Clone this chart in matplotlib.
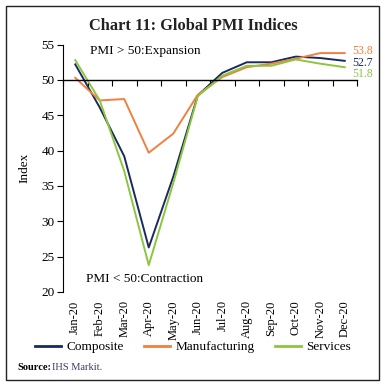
import matplotlib
matplotlib.use("Agg")
import matplotlib.pyplot as plt
from matplotlib.patches import Rectangle
from matplotlib.lines import Line2D
import numpy as np

months = ["Jan-20", "Feb-20", "Mar-20", "Apr-20", "May-20", "Jun-20",
          "Jul-20", "Aug-20", "Sep-20", "Oct-20", "Nov-20", "Dec-20"]
composite = [52.2, 46.1, 39.2, 26.3, 36.3, 47.8, 51.0, 52.5, 52.5, 53.3, 53.1, 52.7]
manufacturing = [50.3, 47.1, 47.3, 39.7, 42.4, 47.9, 50.4, 51.8, 52.3, 53.0, 53.8, 53.8]
services = [52.8, 47.1, 37.1, 23.8, 35.4, 47.7, 50.6, 52.0, 52.0, 52.9, 52.3, 51.8]
yticks = [20, 25, 30, 35, 40, 45, 50, 55]

c_comp = "#1b2a5e"
c_manu = "#f08040"
c_serv = "#8cc63f"

plt.rcParams['font.family'] = ['Liberation Serif', 'DejaVu Serif']

fig = plt.figure(figsize=(3.86, 3.88), dpi=100)
W, H = 386, 388
ax = fig.add_axes([63 / W, 1 - 292 / H, (357 - 63) / W, (292 - 44.6) / H])

x = np.arange(len(months))
ax.plot(x, composite, color=c_comp, lw=1.4)
ax.plot(x, manufacturing, color=c_manu, lw=1.4)
ax.plot(x, services, color=c_serv, lw=1.4)

ax.set_xlim(-0.5, len(months) - 0.5)
ax.set_ylim(20, 55)
ax.set_yticks(yticks)
ax.tick_params(axis='y', labelsize=9.5, length=4, width=0.8, pad=2)

ax.spines['right'].set_visible(False)
ax.spines['bottom'].set_visible(False)
ax.spines['top'].set_position(('data', 50))
ax.spines['top'].set_linewidth(1.0)
ax.spines['left'].set_linewidth(0.8)

ax.set_xticks(x)
ax.set_xticklabels(months)
ax.set_xticks(np.arange(-0.5, len(months), 1.0), minor=True)
ax.tick_params(axis='x', which='major', bottom=True, top=False, length=0, pad=6,
               labelsize=9, labelrotation=90)
ax.tick_params(axis='x', which='minor', top=True, bottom=False, direction='in',
               length=4, width=0.8, labeltop=False, labelbottom=False)

ax.set_ylabel("Index", fontsize=9.5, labelpad=8)

ax.text(0.6, 54.1, "PMI > 50:Expansion", fontsize=9.5, va='center', ha='left')
ax.text(0.45, 21.8, "PMI < 50:Contraction", fontsize=9.5, va='center', ha='left')

ax.text(11.3, 54.15, f"{manufacturing[-1]:.1f}", color=c_manu, fontsize=8.5, va='center')
ax.text(11.3, 52.4, f"{composite[-1]:.1f}", color=c_comp, fontsize=8.5, va='center')
ax.text(11.3, 50.85, f"{services[-1]:.1f}", color=c_serv, fontsize=8.5, va='center')

fig.text(193 / W, 1 - 26 / H, "Chart 11: Global PMI Indices", fontsize=11.8,
         fontweight='bold', ha='center', va='center', color='#222222')

handles = [Line2D([], [], color=c_comp, lw=2), Line2D([], [], color=c_manu, lw=2),
           Line2D([], [], color=c_serv, lw=2)]
fig.legend(handles, ["Composite", "Manufacturing", "Services"], loc='center',
           bbox_to_anchor=(193 / W, 1 - 347 / H), ncol=3, frameon=False, fontsize=9.5,
           handlelength=2.0, handletextpad=0.4, columnspacing=1.5)

fig.text(17 / W, 1 - 368 / H, "Source:", fontsize=7.5, fontweight='bold', ha='left', va='center')
fig.text(52 / W, 1 - 368 / H, "IHS Markit.", fontsize=7.5, ha='left', va='center', color='#3a3a6a')

fig.patches.append(Rectangle((6 / W, 1 - 380 / H), (379 - 6) / W, (380 - 6) / H,
                             transform=fig.transFigure, fill=False, lw=1.0, ec='#222222'))

fig.savefig("out.png", dpi=100)
